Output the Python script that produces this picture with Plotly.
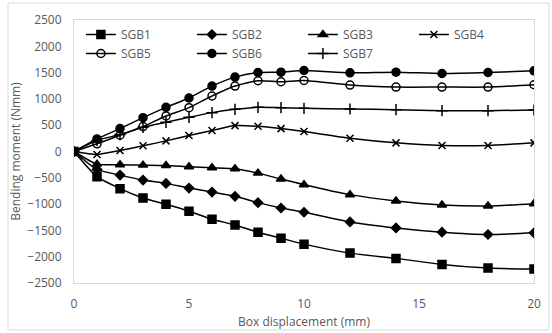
import plotly.graph_objects as go

x_vals = [0, 1, 2, 3, 4, 5, 6, 7, 8, 9, 10, 12, 14, 16, 18, 20]
sgb1 = [0, -479, -706, -884, -1004, -1136, -1288, -1396, -1534, -1648, -1761, -1932, -2032, -2146, -2216, -2235]
sgb2 = [0, -341, -449, -544, -606, -695, -771, -852, -972, -1074, -1155, -1339, -1453, -1534, -1578, -1547]
sgb3 = [0, -240, -253, -259, -265, -290, -309, -328, -411, -524, -631, -820, -941, -1017, -1036, -991]
sgb4 = [0, -57, 19, 108, 202, 303, 398, 492, 479, 435, 379, 252, 164, 114, 114, 164]
sgb5 = [0, 146, 309, 473, 676, 833, 1055, 1244, 1345, 1326, 1350, 1263, 1225, 1225, 1225, 1269]
sgb6 = [0, 240, 435, 644, 840, 1017, 1244, 1414, 1502, 1509, 1540, 1496, 1509, 1483, 1502, 1534]
sgb7 = [0, 210, 322, 460, 555, 650, 739, 801, 840, 833, 820, 808, 795, 776, 776, 789]

names = ["SGB1", "SGB2", "SGB3", "SGB4", "SGB5", "SGB6", "SGB7"]
series = [sgb1, sgb2, sgb3, sgb4, sgb5, sgb6, sgb7]
symbols = ["square", "diamond", "triangle-up", "x-thin", "circle-open", "circle", "cross-thin"]
sizes = [8, 7, 8, 7, 8, 8, 8]

fig = go.Figure()
for n, s, sym, sz in zip(names, series, symbols, sizes):
    fig.add_trace(go.Scatter(
        x=x_vals, y=s, name=n, mode="lines+markers",
        line=dict(color="black", width=1.5, shape="spline", smoothing=0.6),
        marker=dict(symbol=sym, size=sz, color="black",
                    line=dict(color="black", width=1.5)),
    ))

font_col = "#595959"
fig.update_layout(
    width=552, height=333,
    margin=dict(l=74, r=18, t=20, b=50, autoexpand=False),
    paper_bgcolor="white", plot_bgcolor="white",
    font=dict(family="Open Sans, Noto Sans, sans-serif", size=12, color=font_col),
    showlegend=True,
    legend=dict(orientation="h", x=0.015, y=1.0, xanchor="left", yanchor="top",
                entrywidth=66, entrywidthmode="pixels", bgcolor="rgba(0,0,0,0)",
                font=dict(size=12, color=font_col), tracegroupgap=0),
    xaxis=dict(range=[0, 20], tickvals=[0, 5, 10, 15, 20], showgrid=False, zeroline=False,
               showline=True, linecolor="#d9d9d9", linewidth=1, mirror=True, ticks="",
               ticklabelstandoff=10, automargin=False,
               title=dict(text="Box displacement (mm)", font=dict(size=12, color=font_col), standoff=6)),
    yaxis=dict(range=[-2500, 2500], tickvals=list(range(-2500, 2501, 500)), showgrid=False,
               zeroline=False, showline=True, linecolor="#d9d9d9", linewidth=1, mirror=True, ticks="",
               ticklabelstandoff=9, automargin=False,
               title=dict(text="Bending moment (Nmm)", font=dict(size=12, color=font_col), standoff=4)),
    shapes=[dict(type="rect", xref="paper", yref="paper", x0=-0.1435, x1=1.0326, y0=-0.1787, y1=1.0646,
                 line=dict(color="#d9d9d9", width=1), fillcolor="rgba(0,0,0,0)", layer="below")],
)

fig.write_html("out.html")
